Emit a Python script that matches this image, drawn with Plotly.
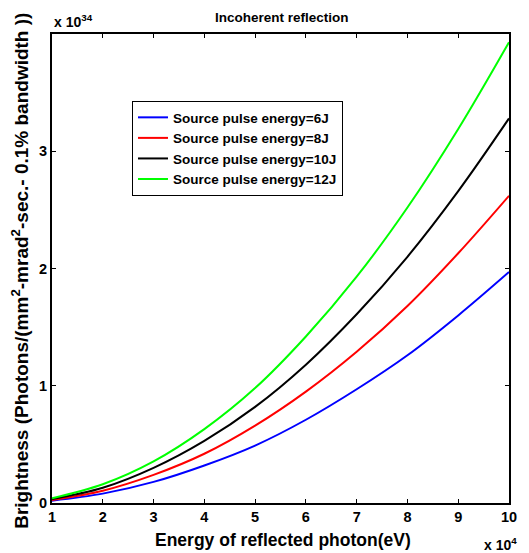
import plotly.graph_objects as go

# Photon energy, in units of 10^4 eV
energy = [1, 2, 3, 4, 5, 6, 7, 8, 9, 10]
# Brightness in units of 10^34
b_6J = [0.020, 0.080, 0.180, 0.320, 0.490, 0.710, 0.970, 1.260, 1.600, 1.970]
b_8J = [0.026, 0.105, 0.240, 0.420, 0.660, 0.950, 1.290, 1.680, 2.130, 2.620]
b_10J = [0.033, 0.130, 0.300, 0.530, 0.820, 1.180, 1.610, 2.100, 2.660, 3.280]
b_12J = [0.040, 0.160, 0.355, 0.630, 0.980, 1.420, 1.930, 2.520, 3.190, 3.930]
names = ["Source pulse energy=6J", "Source pulse energy=8J",
         "Source pulse energy=10J", "Source pulse energy=12J"]
colors = ["#0000FF", "#FF0000", "#000000", "#00FF00"]
x_ticks = [1, 2, 3, 4, 5, 6, 7, 8, 9, 10]
y_ticks = [0, 1, 2, 3]

FONT = "Liberation Sans, Arial, sans-serif"

fig = go.Figure()
for ys, nm, c in zip([b_6J, b_8J, b_10J, b_12J], names, colors):
    fig.add_trace(go.Scatter(x=energy, y=ys, name=nm, mode="lines",
                             line=dict(color=c, width=2, shape="spline")))

fig.update_layout(
    width=529, height=553,
    margin=dict(l=52, r=15, t=34, b=50),
    paper_bgcolor="white", plot_bgcolor="white",
    font=dict(family=FONT, color="black"),
    showlegend=True,
    legend=dict(x=0.175, y=0.857, xanchor="left", yanchor="top",
                bgcolor="white", bordercolor="black", borderwidth=1,
                font=dict(family=FONT, size=13.5, color="black", weight="bold"),
                tracegroupgap=0),
)
axis_common = dict(showgrid=False, zeroline=False, showline=True, linecolor="black",
                   linewidth=2, mirror="ticks", ticks="inside", ticklen=4,
                   tickcolor="black", tickwidth=1,
                   tickfont=dict(family=FONT, size=14.5, color="black", weight="bold"))
fig.update_xaxes(range=[1, 10], tickvals=x_ticks, ticktext=[str(v) for v in x_ticks],
                 **axis_common)
fig.update_yaxes(range=[0, 4], tickvals=y_ticks, ticktext=[str(v) for v in y_ticks],
                 **axis_common)

fig.add_annotation(text="Incoherent reflection", xref="paper", yref="paper",
                   x=0.503, y=1.0, yshift=17, xanchor="center", yanchor="middle",
                   showarrow=False, font=dict(family=FONT, size=13.5, weight="bold"))
fig.add_annotation(text="x 10<sup>34</sup>", xref="paper", yref="paper",
                   x=0.0, y=1.0, xanchor="left", yanchor="bottom", yshift=2,
                   showarrow=False, font=dict(family=FONT, size=14, weight="bold"))
fig.add_annotation(text="x 10<sup>4</sup>", xref="paper", yref="paper",
                   x=1.0, y=0.0, xanchor="right", yanchor="top", yshift=-30,
                   xshift=10, showarrow=False,
                   font=dict(family=FONT, size=14, weight="bold"))
fig.add_annotation(text="Energy of reflected photon(eV)", xref="paper", yref="paper",
                   x=0.505, y=0.0, xanchor="center", yanchor="middle", yshift=-37,
                   showarrow=False, font=dict(family=FONT, size=17.5, weight="bold"))
fig.add_annotation(text="Brightness (Photons/(mm<sup>2</sup>-mrad<sup>2</sup>-sec.- 0.1% bandwidth ))",
                   xref="paper", yref="paper", x=0.0, y=0.495, xshift=-32,
                   xanchor="center", yanchor="middle", textangle=-90,
                   showarrow=False, font=dict(family=FONT, size=19, weight="bold"))

fig.write_html("out.html")
